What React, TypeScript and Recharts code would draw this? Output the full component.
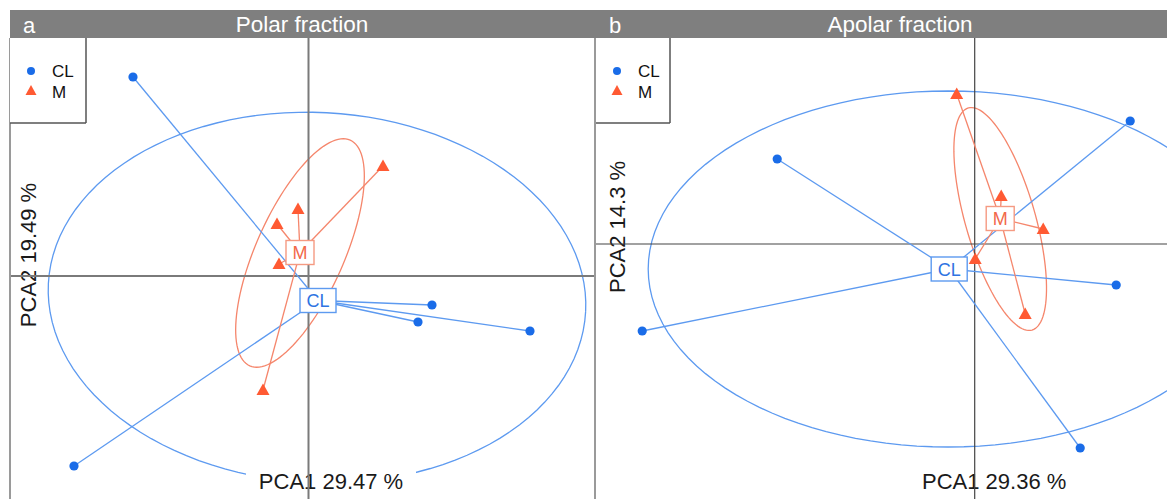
import React from "react";
import {
  ScatterChart,
  Scatter,
  XAxis,
  YAxis,
  ReferenceLine,
  ReferenceDot,
} from "recharts";

// PCA scores (1 unit = 50px in both panels)
const polarCL = [
  { x: -3.51, y: 3.98 },
  { x: 2.47, y: -0.58 },
  { x: 2.19, y: -0.92 },
  { x: 4.43, y: -1.1 },
  { x: -4.69, y: -3.8 },
];
const polarM = [
  { x: 1.49, y: 2.2 },
  { x: -0.21, y: 1.34 },
  { x: -0.63, y: 1.04 },
  { x: -0.59, y: 0.24 },
  { x: -0.91, y: -2.28 },
];
const apolarCL = [
  { x: -3.95, y: 1.7 },
  { x: 3.11, y: 2.46 },
  { x: 2.83, y: -0.82 },
  { x: -6.65, y: -1.74 },
  { x: 2.11, y: -4.08 },
];
const apolarM = [
  { x: -0.36, y: 3.0 },
  { x: 0.53, y: 0.96 },
  { x: 1.37, y: 0.3 },
  { x: 0.01, y: -0.3 },
  { x: 1.01, y: -1.4 },
];

// group centroids
const polarCentroids = { CL: { x: 0.19, y: -0.49 }, M: { x: -0.17, y: 0.47 } };
const apolarCentroids = { CL: { x: -0.51, y: -0.5 }, M: { x: 0.51, y: 0.51 } };

// confidence ellipses: centre, semi axes, rotation in degrees
const polarEllipses = {
  CL: { cx: 0.17, cy: -0.43, a: 5.38, b: 3.7, angle: -3 },
  M: { cx: -0.17, cy: 0.46, a: 2.47, b: 0.88, angle: 66 },
};
const apolarEllipses = {
  CL: { cx: -0.53, cy: -0.5, a: 6.0, b: 3.56, angle: 0 },
  M: { cx: 0.51, cy: 0.5, a: 2.31, b: 0.7, angle: 106 },
};

const groups = ["CL", "M"];
const FONT = '"Liberation Sans", Arial, Helvetica, sans-serif';

const BLUE = "#1a6ce8";
const BLUE_LINE = "#5d9af0";
const BLUE_TEXT = "#2f74e2";
const RED = "#ff5a33";
const RED_LINE = "#f5866c";
const RED_TEXT = "#f2694a";

type Ell = { cx: number; cy: number; a: number; b: number; angle: number };

function ellipsePath(e: Ell) {
  const th = (e.angle * Math.PI) / 180;
  const pts = [];
  for (let i = 0; i <= 120; i++) {
    const t = (2 * Math.PI * i) / 120;
    const u = e.a * Math.cos(t);
    const v = e.b * Math.sin(t);
    pts.push({
      x: e.cx + u * Math.cos(th) - v * Math.sin(th),
      y: e.cy + u * Math.sin(th) + v * Math.cos(th),
    });
  }
  return pts;
}

const Dot = (p: any) => <circle cx={p.cx} cy={p.cy} r={4.6} fill={BLUE} />;
const Tri = (p: any) => (
  <polygon
    points={`${p.cx},${p.cy - 6.5} ${p.cx - 6.5},${p.cy + 5} ${p.cx + 6.5},${p.cy + 5}`}
    fill={RED}
  />
);
const Nothing = () => <g />;

function boxLabel(text: string, w: number, stroke: string, color: string) {
  return (p: any) => (
    <g>
      <rect x={p.cx - w / 2} y={p.cy - 12} width={w} height={24} fill="#fff" stroke={stroke} strokeWidth={1.4} />
      <text x={p.cx} y={p.cy + 6.5} textAnchor="middle" fontSize={18} fontFamily={FONT} fill={color}>
        {text}
      </text>
    </g>
  );
}

interface PanelProps {
  left: number;
  width: number;
  xDomain: [number, number];
  yDomain: [number, number];
  cl: { x: number; y: number }[];
  m: { x: number; y: number }[];
  centroids: typeof polarCentroids;
  ellipses: { CL: Ell; M: Ell };
  xLabel: string;
  xLabelPos: { x: number; y: number };
  yLabel: string;
  yLabelPos: { x: number; y: number };
  zeroColor: string;
  zeroWidth: number;
}

function Panel(props: PanelProps) {
  const { centroids, ellipses } = props;
  return (
    <div style={{ position: "absolute", left: props.left, top: 38 }}>
      <ScatterChart width={props.width} height={461} margin={{ top: 0, right: 0, bottom: 0, left: 0 }}>
        <XAxis type="number" dataKey="x" domain={props.xDomain} hide allowDataOverflow />
        <YAxis type="number" dataKey="y" domain={props.yDomain} hide allowDataOverflow />
        {groups.map((g) => (
          <Scatter
            key={"e" + g}
            data={ellipsePath(ellipses[g as "CL" | "M"])}
            line={{ stroke: g === "CL" ? BLUE_LINE : RED_LINE, strokeWidth: 1.3 }}
            lineType="joint"
            shape={Nothing}
            isAnimationActive={false}
            zIndex={100}
          />
        ))}
        <ReferenceDot
          x={props.xLabelPos.x}
          y={props.xLabelPos.y}
          ifOverflow="visible"
          zIndex={150}
          shape={(p: any) => (
            <g>
              <rect x={p.cx - 85} y={p.cy - 21} width={170} height={30} fill="#fff" />
              <text x={p.cx} y={p.cy} textAnchor="middle" fontSize={22} fontFamily={FONT} fill="#1a1a1a">
                {props.xLabel}
              </text>
            </g>
          )}
        />
        <ReferenceDot
          x={props.yLabelPos.x}
          y={props.yLabelPos.y}
          ifOverflow="visible"
          zIndex={150}
          shape={(p: any) => (
            <text
              x={p.cx}
              y={p.cy + 8}
              transform={`rotate(-90 ${p.cx} ${p.cy})`}
              textAnchor="middle"
              fontSize={22}
              fontFamily={FONT}
              fill="#1a1a1a"
            >
              {props.yLabel}
            </text>
          )}
        />
        <ReferenceLine x={0} stroke={props.zeroColor} strokeWidth={props.zeroWidth} zIndex={200} />
        <ReferenceLine y={0} stroke={props.zeroColor} strokeWidth={props.zeroWidth} zIndex={200} />
        {props.cl.map((p, i) => (
          <ReferenceLine
            key={"sc" + i}
            segment={[{ x: centroids.CL.x, y: centroids.CL.y }, { x: p.x, y: p.y }]}
            stroke={BLUE_LINE}
            strokeWidth={1.3}
            zIndex={300}
          />
        ))}
        {props.m.map((p, i) => (
          <ReferenceLine
            key={"sm" + i}
            segment={[{ x: centroids.M.x, y: centroids.M.y }, { x: p.x, y: p.y }]}
            stroke={RED_LINE}
            strokeWidth={1.3}
            zIndex={300}
          />
        ))}
        <Scatter data={props.cl} shape={Dot} isAnimationActive={false} zIndex={600} />
        <Scatter data={props.m} shape={Tri} isAnimationActive={false} zIndex={600} />
        <ReferenceDot
          x={centroids.CL.x}
          y={centroids.CL.y}
          ifOverflow="visible"
          zIndex={700}
          shape={boxLabel("CL", 36, BLUE_LINE, BLUE_TEXT)}
        />
        <ReferenceDot
          x={centroids.M.x}
          y={centroids.M.y}
          ifOverflow="visible"
          zIndex={700}
          shape={boxLabel("M", 28, "#f59a82", RED_TEXT)}
        />
      </ScatterChart>
    </div>
  );
}

function LegendBox({ x, w }: { x: number; w: number }) {
  return (
    <g>
      <rect x={x} y={38} width={w} height={85} fill="#fff" />
      <line x1={x + w} y1={38} x2={x + w} y2={123} stroke="#555" strokeWidth={1.5} />
      <line x1={x} y1={123} x2={x + w} y2={123} stroke="#555" strokeWidth={1.5} />
      <circle cx={x + 21} cy={71} r={4} fill={BLUE} />
      <text x={x + 42} y={77} fontSize={17} fontFamily={FONT} fill="#111">CL</text>
      <polygon points={`${x + 21},${85} ${x + 15.5},${95} ${x + 26.5},${95}`} fill={RED} />
      <text x={x + 42} y={98} fontSize={17} fontFamily={FONT} fill="#111">M</text>
    </g>
  );
}

export default function App() {
  return (
    <div style={{ position: "absolute", left: 0, top: 0, width: 1167, height: 499, background: "#fff", overflow: "hidden" }}>
      <Panel
        left={10}
        width={586}
        xDomain={[-5.97, 5.75]}
        yDomain={[-4.46, 4.76]}
        cl={polarCL}
        m={polarM}
        centroids={polarCentroids}
        ellipses={polarEllipses}
        xLabel="PCA1 29.47 %"
        xLabelPos={{ x: 0.45, y: -4.26 }}
        yLabel="PCA2 19.49 %"
        yLabelPos={{ x: -5.61, y: 0.42 }}
        zeroColor="#7a7a7a"
        zeroWidth={2}
      />
      <Panel
        left={596}
        width={571}
        xDomain={[-7.574, 3.846]}
        yDomain={[-5.1, 4.12]}
        cl={apolarCL}
        m={apolarM}
        centroids={apolarCentroids}
        ellipses={apolarEllipses}
        xLabel="PCA1 29.36 %"
        xLabelPos={{ x: 0.39, y: -4.9 }}
        yLabel="PCA2 14.3 %"
        yLabelPos={{ x: -7.15, y: 0.34 }}
        zeroColor="#444"
        zeroWidth={1.2}
      />
      <svg width={1167} height={499} style={{ position: "absolute", left: 0, top: 0, pointerEvents: "none" }}>
        <rect x={10} y={10} width={1157} height={28} fill="#7f7f7f" />
        <text x={23} y={33} fontSize={22} fontFamily={FONT} fill="#fff">a</text>
        <text x={302} y={32} textAnchor="middle" fontSize={22.5} fontFamily={FONT} fill="#fff">Polar fraction</text>
        <text x={609} y={33} fontSize={22} fontFamily={FONT} fill="#fff">b</text>
        <text x={900} y={32} textAnchor="middle" fontSize={22.5} fontFamily={FONT} fill="#fff">Apolar fraction</text>
        <line x1={10} y1={38} x2={10} y2={499} stroke="#9a9a9a" strokeWidth={2} />
        <line x1={595} y1={38} x2={595} y2={499} stroke="#9a9a9a" strokeWidth={2} />
        <LegendBox x={10} w={76} />
        <LegendBox x={596} w={74} />
      </svg>
    </div>
  );
}
